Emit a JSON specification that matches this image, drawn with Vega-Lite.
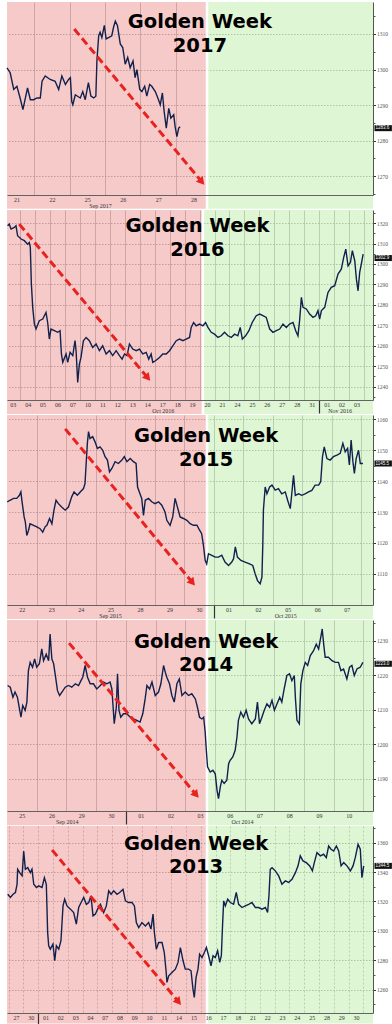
{
  "$schema": "https://vega.github.io/schema/vega-lite/v6.json",
  "background": "white",
  "padding": {"left": 1, "top": 0, "right": 0, "bottom": 0},
  "spacing": 15,
  "bounds": "flush",
  "config": {"view": {"stroke": null}},
  "datasets": {
    "titles": [
      {"year": 2017, "title": ["Golden Week", "2017"]},
      {"year": 2016, "title": ["Golden Week", "2016"]},
      {"year": 2015, "title": ["Golden Week", "2015"]},
      {"year": 2014, "title": ["Golden Week", "2014"]},
      {"year": 2013, "title": ["Golden Week", "2013"]}
    ],
    "bg": [
      {"year": 2017, "phase": "pre", "t0": 0.23, "t1": 5.88},
      {"year": 2017, "phase": "post", "t0": 5.88, "t1": 10.57},
      {"year": 2016, "phase": "pre", "t0": 0.12, "t1": 13.22},
      {"year": 2016, "phase": "post", "t0": 13.22, "t1": 24.6},
      {"year": 2015, "phase": "pre", "t0": 0, "t1": 6.77},
      {"year": 2015, "phase": "post", "t0": 6.77, "t1": 12.39},
      {"year": 2014, "phase": "pre", "t0": 0, "t1": 6.73},
      {"year": 2014, "phase": "post", "t0": 6.73, "t1": 12.32},
      {"year": 2013, "phase": "pre", "t0": -0.11, "t1": 13.42},
      {"year": 2013, "phase": "post", "t0": 13.42, "t1": 24.65}
    ],
    "arrows": [
      {"year": 2017, "t1": 2.13, "v1": 1311.4, "t2": 5.71, "v2": 1268.7},
      {"year": 2016, "t1": 0.94, "v1": 1319.5, "t2": 9.48, "v2": 1244.8},
      {"year": 2015, "t1": 1.97, "v1": 1156.9, "t2": 6.25, "v2": 1107.5},
      {"year": 2014, "t1": 2.09, "v1": 1229.3, "t2": 6.34, "v2": 1185.6},
      {"year": 2013, "t1": 2.94, "v1": 1355.0, "t2": 11.44, "v2": 1252.4}
    ],
    "tags": [
      {"year": 2017, "v": 1283.5, "label": "1283.6"},
      {"year": 2016, "v": 1302.9, "label": "1302.9"},
      {"year": 2015, "v": 1145.7, "label": "1145.5"},
      {"year": 2014, "v": 1223.3, "label": "1223.0"},
      {"year": 2013, "v": 1344.2, "label": "1344.5"}
    ],
    "gw2017": [
      {"t":0.23,"v":1300.5},{"t":0.32,"v":1299.1},{"t":0.42,"v":1294.4},{"t":0.51,"v":1295.3},{"t":0.60,"v":1292.0},{"t":0.68,"v":1288.7},{"t":0.75,"v":1292.0},{"t":0.81,"v":1294.8},{"t":0.89,"v":1291.5},{"t":0.98,"v":1291.5},{"t":1.08,"v":1292.0},{"t":1.17,"v":1292.0},{"t":1.22,"v":1296.7},{"t":1.31,"v":1298.2},{"t":1.45,"v":1297.2},{"t":1.59,"v":1296.7},{"t":1.69,"v":1294.4},{"t":1.78,"v":1298.2},{"t":1.88,"v":1295.8},{"t":1.97,"v":1297.2},{"t":2.02,"v":1297.7},{"t":2.06,"v":1291.0},{"t":2.09,"v":1290.1},{"t":2.16,"v":1292.9},{"t":2.30,"v":1292.0},{"t":2.37,"v":1293.8},{"t":2.44,"v":1291.5},{"t":2.53,"v":1296.3},{"t":2.60,"v":1292.5},{"t":2.68,"v":1292.0},{"t":2.74,"v":1292.5},{"t":2.77,"v":1302.4},{"t":2.82,"v":1309.5},{"t":2.86,"v":1310.5},{"t":2.91,"v":1309.0},{"t":2.98,"v":1312.4},{"t":3.03,"v":1308.6},{"t":3.10,"v":1309.0},{"t":3.19,"v":1309.5},{"t":3.24,"v":1311.9},{"t":3.29,"v":1313.6},{"t":3.35,"v":1312.4},{"t":3.43,"v":1307.2},{"t":3.50,"v":1306.2},{"t":3.57,"v":1301.5},{"t":3.64,"v":1303.4},{"t":3.71,"v":1300.5},{"t":3.79,"v":1302.4},{"t":3.85,"v":1297.7},{"t":3.90,"v":1300.0},{"t":3.98,"v":1294.4},{"t":4.04,"v":1293.8},{"t":4.12,"v":1295.3},{"t":4.18,"v":1292.5},{"t":4.26,"v":1295.8},{"t":4.32,"v":1295.3},{"t":4.42,"v":1293.8},{"t":4.51,"v":1291.5},{"t":4.56,"v":1290.1},{"t":4.62,"v":1293.4},{"t":4.67,"v":1288.2},{"t":4.73,"v":1283.5},{"t":4.80,"v":1289.1},{"t":4.86,"v":1286.3},{"t":4.94,"v":1287.3},{"t":4.98,"v":1283.9},{"t":5.03,"v":1281.1},{"t":5.08,"v":1283.5},{"t":5.12,"v":1283.9}
    ],
    "gw2016": [
      {"t":0.16,"v":1318.7},{"t":0.27,"v":1319.5},{"t":0.39,"v":1317.1},{"t":0.61,"v":1317.9},{"t":0.72,"v":1318.7},{"t":0.83,"v":1313.8},{"t":1.06,"v":1312.2},{"t":1.28,"v":1311.4},{"t":1.50,"v":1309.7},{"t":1.61,"v":1310.5},{"t":1.68,"v":1308.1},{"t":1.75,"v":1290.2},{"t":1.84,"v":1278.8},{"t":1.95,"v":1270.7},{"t":2.06,"v":1268.2},{"t":2.28,"v":1272.3},{"t":2.51,"v":1273.1},{"t":2.73,"v":1276.3},{"t":2.84,"v":1271.4},{"t":2.95,"v":1263.3},{"t":3.06,"v":1268.2},{"t":3.29,"v":1267.4},{"t":3.51,"v":1266.6},{"t":3.67,"v":1267.4},{"t":3.76,"v":1256.0},{"t":3.85,"v":1251.9},{"t":4.07,"v":1256.0},{"t":4.18,"v":1251.9},{"t":4.34,"v":1256.8},{"t":4.52,"v":1255.2},{"t":4.67,"v":1262.5},{"t":4.74,"v":1257.6},{"t":4.85,"v":1242.1},{"t":4.96,"v":1251.1},{"t":5.07,"v":1254.3},{"t":5.23,"v":1262.5},{"t":5.41,"v":1264.1},{"t":5.63,"v":1262.5},{"t":5.85,"v":1259.2},{"t":6.08,"v":1260.9},{"t":6.30,"v":1257.6},{"t":6.52,"v":1260.0},{"t":6.75,"v":1256.0},{"t":6.97,"v":1257.6},{"t":7.19,"v":1255.2},{"t":7.42,"v":1257.6},{"t":7.64,"v":1255.2},{"t":7.82,"v":1253.5},{"t":7.98,"v":1256.0},{"t":8.15,"v":1255.2},{"t":8.31,"v":1260.9},{"t":8.53,"v":1258.4},{"t":8.76,"v":1257.6},{"t":8.98,"v":1258.4},{"t":9.20,"v":1256.0},{"t":9.43,"v":1256.8},{"t":9.60,"v":1253.5},{"t":9.76,"v":1256.0},{"t":9.87,"v":1251.9},{"t":10.05,"v":1252.7},{"t":10.32,"v":1254.3},{"t":10.54,"v":1256.0},{"t":10.77,"v":1256.0},{"t":10.99,"v":1257.6},{"t":11.21,"v":1260.0},{"t":11.44,"v":1262.5},{"t":11.66,"v":1263.3},{"t":11.88,"v":1262.5},{"t":12.10,"v":1263.3},{"t":12.33,"v":1264.1},{"t":12.44,"v":1269.0},{"t":12.60,"v":1271.4},{"t":12.77,"v":1269.8},{"t":13.00,"v":1270.6},{"t":13.22,"v":1269.8},{"t":13.40,"v":1271.4},{"t":13.56,"v":1269.0},{"t":13.78,"v":1266.6},{"t":14.00,"v":1265.7},{"t":14.23,"v":1264.1},{"t":14.45,"v":1264.9},{"t":14.67,"v":1266.6},{"t":14.90,"v":1264.9},{"t":15.12,"v":1264.1},{"t":15.34,"v":1265.7},{"t":15.56,"v":1264.9},{"t":15.72,"v":1269.0},{"t":15.86,"v":1263.3},{"t":16.08,"v":1264.9},{"t":16.30,"v":1267.4},{"t":16.52,"v":1271.4},{"t":16.79,"v":1274.7},{"t":17.02,"v":1275.5},{"t":17.24,"v":1274.7},{"t":17.46,"v":1273.9},{"t":17.69,"v":1268.2},{"t":17.91,"v":1266.6},{"t":18.13,"v":1267.4},{"t":18.36,"v":1268.2},{"t":18.58,"v":1270.6},{"t":18.80,"v":1269.0},{"t":19.02,"v":1270.6},{"t":19.25,"v":1271.4},{"t":19.43,"v":1267.4},{"t":19.58,"v":1264.9},{"t":19.69,"v":1272.3},{"t":19.81,"v":1283.7},{"t":19.92,"v":1278.8},{"t":20.14,"v":1278.0},{"t":20.36,"v":1275.5},{"t":20.59,"v":1273.9},{"t":20.77,"v":1274.7},{"t":20.92,"v":1277.2},{"t":21.03,"v":1273.1},{"t":21.15,"v":1277.2},{"t":21.37,"v":1278.8},{"t":21.59,"v":1286.1},{"t":21.81,"v":1288.6},{"t":22.04,"v":1289.4},{"t":22.26,"v":1295.1},{"t":22.48,"v":1297.5},{"t":22.64,"v":1303.2},{"t":22.78,"v":1307.3},{"t":22.93,"v":1299.1},{"t":23.09,"v":1300.8},{"t":23.22,"v":1306.5},{"t":23.38,"v":1301.6},{"t":23.49,"v":1292.6},{"t":23.60,"v":1286.9},{"t":23.71,"v":1295.9},{"t":23.82,"v":1300.0},{"t":23.94,"v":1304.8}
    ],
    "gw2015": [
      {"t":0.01,"v":1133.3},{"t":0.10,"v":1133.8},{"t":0.22,"v":1134.4},{"t":0.33,"v":1134.4},{"t":0.42,"v":1135.4},{"t":0.47,"v":1136.5},{"t":0.51,"v":1133.3},{"t":0.58,"v":1128.4},{"t":0.62,"v":1126.8},{"t":0.67,"v":1122.4},{"t":0.73,"v":1124.1},{"t":0.78,"v":1126.2},{"t":0.90,"v":1125.7},{"t":1.01,"v":1125.2},{"t":1.12,"v":1124.6},{"t":1.21,"v":1123.5},{"t":1.29,"v":1125.2},{"t":1.35,"v":1125.7},{"t":1.44,"v":1127.9},{"t":1.52,"v":1126.2},{"t":1.59,"v":1130.6},{"t":1.66,"v":1133.8},{"t":1.74,"v":1132.7},{"t":1.85,"v":1131.6},{"t":1.97,"v":1130.6},{"t":2.08,"v":1131.6},{"t":2.19,"v":1134.9},{"t":2.27,"v":1136.5},{"t":2.38,"v":1135.4},{"t":2.48,"v":1136.5},{"t":2.59,"v":1137.6},{"t":2.64,"v":1139.2},{"t":2.68,"v":1145.7},{"t":2.72,"v":1152.2},{"t":2.76,"v":1156.0},{"t":2.81,"v":1153.8},{"t":2.90,"v":1154.4},{"t":2.98,"v":1152.7},{"t":3.06,"v":1150.6},{"t":3.15,"v":1151.1},{"t":3.24,"v":1150.0},{"t":3.32,"v":1147.9},{"t":3.40,"v":1146.8},{"t":3.47,"v":1143.0},{"t":3.55,"v":1144.1},{"t":3.66,"v":1146.3},{"t":3.77,"v":1145.7},{"t":3.89,"v":1146.8},{"t":3.97,"v":1147.9},{"t":4.06,"v":1146.3},{"t":4.17,"v":1147.3},{"t":4.28,"v":1146.3},{"t":4.37,"v":1145.7},{"t":4.42,"v":1138.1},{"t":4.48,"v":1136.5},{"t":4.56,"v":1134.4},{"t":4.62,"v":1128.9},{"t":4.68,"v":1133.8},{"t":4.79,"v":1134.4},{"t":4.90,"v":1133.3},{"t":5.01,"v":1132.7},{"t":5.13,"v":1133.3},{"t":5.24,"v":1132.2},{"t":5.35,"v":1130.0},{"t":5.41,"v":1127.3},{"t":5.52,"v":1125.7},{"t":5.61,"v":1128.4},{"t":5.69,"v":1134.4},{"t":5.77,"v":1131.6},{"t":5.86,"v":1128.4},{"t":5.97,"v":1127.9},{"t":6.09,"v":1127.3},{"t":6.20,"v":1126.2},{"t":6.31,"v":1125.7},{"t":6.43,"v":1125.7},{"t":6.52,"v":1124.1},{"t":6.59,"v":1123.0},{"t":6.65,"v":1119.2},{"t":6.71,"v":1114.3},{"t":6.76,"v":1113.2},{"t":6.82,"v":1116.5},{"t":6.93,"v":1116.0},{"t":7.05,"v":1115.4},{"t":7.16,"v":1115.4},{"t":7.27,"v":1116.0},{"t":7.38,"v":1113.8},{"t":7.50,"v":1112.7},{"t":7.61,"v":1113.8},{"t":7.67,"v":1114.9},{"t":7.73,"v":1118.7},{"t":7.80,"v":1115.4},{"t":7.92,"v":1114.3},{"t":8.06,"v":1113.8},{"t":8.21,"v":1113.2},{"t":8.32,"v":1112.7},{"t":8.40,"v":1110.0},{"t":8.48,"v":1107.8},{"t":8.57,"v":1106.8},{"t":8.63,"v":1108.9},{"t":8.66,"v":1119.7},{"t":8.68,"v":1130.6},{"t":8.74,"v":1138.1},{"t":8.80,"v":1135.9},{"t":8.89,"v":1138.1},{"t":8.97,"v":1138.7},{"t":9.08,"v":1137.1},{"t":9.19,"v":1137.6},{"t":9.30,"v":1135.9},{"t":9.42,"v":1136.5},{"t":9.50,"v":1133.8},{"t":9.59,"v":1131.1},{"t":9.64,"v":1135.9},{"t":9.70,"v":1141.9},{"t":9.76,"v":1135.4},{"t":9.87,"v":1135.9},{"t":9.98,"v":1135.4},{"t":10.09,"v":1135.9},{"t":10.21,"v":1136.5},{"t":10.32,"v":1137.0},{"t":10.43,"v":1138.7},{"t":10.55,"v":1138.7},{"t":10.62,"v":1139.8},{"t":10.68,"v":1147.9},{"t":10.74,"v":1151.1},{"t":10.83,"v":1147.3},{"t":10.94,"v":1146.8},{"t":11.05,"v":1147.9},{"t":11.17,"v":1148.4},{"t":11.28,"v":1149.0},{"t":11.37,"v":1152.2},{"t":11.45,"v":1149.5},{"t":11.53,"v":1150.6},{"t":11.59,"v":1145.2},{"t":11.65,"v":1153.3},{"t":11.71,"v":1146.3},{"t":11.76,"v":1142.5},{"t":11.82,"v":1147.3},{"t":11.90,"v":1150.0},{"t":11.96,"v":1145.7},{"t":12.05,"v":1145.7}
    ],
    "gw2014": [
      {"t":0.02,"v":1217.0},{"t":0.11,"v":1216.5},{"t":0.20,"v":1213.6},{"t":0.27,"v":1215.1},{"t":0.35,"v":1213.6},{"t":0.42,"v":1210.2},{"t":0.47,"v":1207.8},{"t":0.53,"v":1211.2},{"t":0.61,"v":1209.8},{"t":0.67,"v":1212.2},{"t":0.72,"v":1221.3},{"t":0.78,"v":1223.7},{"t":0.86,"v":1222.3},{"t":0.93,"v":1224.7},{"t":1.00,"v":1222.3},{"t":1.09,"v":1223.3},{"t":1.17,"v":1227.6},{"t":1.23,"v":1224.2},{"t":1.32,"v":1226.1},{"t":1.40,"v":1224.2},{"t":1.45,"v":1231.9},{"t":1.51,"v":1224.7},{"t":1.57,"v":1223.3},{"t":1.62,"v":1220.4},{"t":1.70,"v":1215.5},{"t":1.77,"v":1214.1},{"t":1.85,"v":1215.1},{"t":1.96,"v":1216.5},{"t":2.07,"v":1217.0},{"t":2.18,"v":1216.5},{"t":2.30,"v":1217.5},{"t":2.41,"v":1217.0},{"t":2.49,"v":1218.4},{"t":2.55,"v":1219.4},{"t":2.63,"v":1222.8},{"t":2.71,"v":1219.4},{"t":2.80,"v":1217.5},{"t":2.91,"v":1217.5},{"t":3.02,"v":1216.0},{"t":3.14,"v":1217.0},{"t":3.25,"v":1218.0},{"t":3.36,"v":1217.5},{"t":3.47,"v":1218.0},{"t":3.53,"v":1216.0},{"t":3.61,"v":1205.9},{"t":3.68,"v":1210.7},{"t":3.72,"v":1220.4},{"t":3.77,"v":1209.8},{"t":3.83,"v":1207.8},{"t":3.92,"v":1208.8},{"t":4.03,"v":1208.8},{"t":4.15,"v":1207.8},{"t":4.26,"v":1207.3},{"t":4.37,"v":1206.9},{"t":4.48,"v":1206.4},{"t":4.57,"v":1208.8},{"t":4.65,"v":1213.1},{"t":4.71,"v":1217.0},{"t":4.80,"v":1216.0},{"t":4.88,"v":1218.0},{"t":4.99,"v":1214.1},{"t":5.10,"v":1215.1},{"t":5.18,"v":1217.5},{"t":5.27,"v":1222.8},{"t":5.33,"v":1220.8},{"t":5.38,"v":1219.4},{"t":5.47,"v":1217.5},{"t":5.55,"v":1214.1},{"t":5.63,"v":1212.2},{"t":5.72,"v":1217.5},{"t":5.80,"v":1218.9},{"t":5.89,"v":1214.1},{"t":6.00,"v":1215.1},{"t":6.11,"v":1214.1},{"t":6.22,"v":1214.6},{"t":6.34,"v":1213.1},{"t":6.41,"v":1210.7},{"t":6.48,"v":1207.8},{"t":6.56,"v":1207.3},{"t":6.62,"v":1207.8},{"t":6.67,"v":1203.5},{"t":6.71,"v":1198.2},{"t":6.75,"v":1193.4},{"t":6.84,"v":1191.9},{"t":6.93,"v":1192.4},{"t":7.01,"v":1191.4},{"t":7.07,"v":1186.6},{"t":7.12,"v":1184.2},{"t":7.18,"v":1187.6},{"t":7.23,"v":1189.5},{"t":7.31,"v":1188.6},{"t":7.40,"v":1189.5},{"t":7.46,"v":1194.3},{"t":7.51,"v":1195.3},{"t":7.60,"v":1196.3},{"t":7.68,"v":1198.2},{"t":7.74,"v":1202.0},{"t":7.79,"v":1206.9},{"t":7.87,"v":1209.3},{"t":7.96,"v":1207.8},{"t":8.05,"v":1209.8},{"t":8.13,"v":1207.3},{"t":8.24,"v":1205.9},{"t":8.36,"v":1207.3},{"t":8.43,"v":1212.2},{"t":8.50,"v":1205.9},{"t":8.58,"v":1207.8},{"t":8.66,"v":1209.8},{"t":8.75,"v":1211.7},{"t":8.84,"v":1210.7},{"t":8.92,"v":1212.7},{"t":9.00,"v":1209.8},{"t":9.09,"v":1211.7},{"t":9.18,"v":1213.6},{"t":9.25,"v":1212.2},{"t":9.33,"v":1216.0},{"t":9.42,"v":1219.9},{"t":9.51,"v":1220.4},{"t":9.59,"v":1218.4},{"t":9.67,"v":1219.9},{"t":9.71,"v":1213.1},{"t":9.76,"v":1206.9},{"t":9.84,"v":1205.9},{"t":9.89,"v":1217.5},{"t":9.96,"v":1221.3},{"t":10.04,"v":1223.7},{"t":10.12,"v":1222.8},{"t":10.21,"v":1225.7},{"t":10.32,"v":1227.1},{"t":10.41,"v":1229.0},{"t":10.49,"v":1227.6},{"t":10.57,"v":1231.4},{"t":10.61,"v":1233.4},{"t":10.66,"v":1229.0},{"t":10.71,"v":1225.2},{"t":10.82,"v":1225.2},{"t":10.94,"v":1224.2},{"t":11.05,"v":1223.7},{"t":11.16,"v":1223.7},{"t":11.24,"v":1221.3},{"t":11.33,"v":1221.8},{"t":11.44,"v":1218.9},{"t":11.53,"v":1222.3},{"t":11.61,"v":1222.8},{"t":11.69,"v":1219.9},{"t":11.78,"v":1221.8},{"t":11.89,"v":1222.3},{"t":11.98,"v":1223.7}
    ],
    "gw2013": [
      {"t":-0.06,"v":1324.9},{"t":0.12,"v":1322.7},{"t":0.30,"v":1324.9},{"t":0.46,"v":1326.1},{"t":0.57,"v":1331.7},{"t":0.61,"v":1341.9},{"t":0.75,"v":1339.6},{"t":0.91,"v":1337.4},{"t":1.02,"v":1354.3},{"t":1.13,"v":1341.9},{"t":1.29,"v":1343.0},{"t":1.47,"v":1339.6},{"t":1.58,"v":1341.9},{"t":1.70,"v":1331.7},{"t":1.88,"v":1329.5},{"t":2.03,"v":1330.6},{"t":2.26,"v":1329.5},{"t":2.42,"v":1336.2},{"t":2.55,"v":1331.7},{"t":2.64,"v":1298.9},{"t":2.71,"v":1289.9},{"t":2.82,"v":1287.6},{"t":3.00,"v":1291.0},{"t":3.12,"v":1279.7},{"t":3.23,"v":1289.9},{"t":3.39,"v":1287.6},{"t":3.54,"v":1293.3},{"t":3.68,"v":1317.0},{"t":3.79,"v":1321.5},{"t":3.95,"v":1317.0},{"t":4.18,"v":1314.8},{"t":4.40,"v":1312.5},{"t":4.58,"v":1304.6},{"t":4.74,"v":1315.9},{"t":4.90,"v":1319.3},{"t":5.08,"v":1322.7},{"t":5.26,"v":1318.1},{"t":5.42,"v":1319.3},{"t":5.57,"v":1323.8},{"t":5.71,"v":1310.2},{"t":5.87,"v":1311.4},{"t":6.02,"v":1314.8},{"t":6.21,"v":1318.1},{"t":6.43,"v":1312.5},{"t":6.61,"v":1317.0},{"t":6.77,"v":1327.2},{"t":6.93,"v":1324.9},{"t":7.11,"v":1327.2},{"t":7.33,"v":1324.9},{"t":7.51,"v":1326.1},{"t":7.74,"v":1328.3},{"t":7.90,"v":1320.4},{"t":8.12,"v":1319.3},{"t":8.35,"v":1319.3},{"t":8.51,"v":1317.0},{"t":8.64,"v":1305.7},{"t":8.80,"v":1302.3},{"t":9.02,"v":1305.7},{"t":9.25,"v":1303.4},{"t":9.47,"v":1305.7},{"t":9.63,"v":1301.2},{"t":9.77,"v":1311.4},{"t":9.86,"v":1298.9},{"t":9.99,"v":1287.6},{"t":10.15,"v":1292.1},{"t":10.38,"v":1292.1},{"t":10.53,"v":1285.3},{"t":10.65,"v":1272.9},{"t":10.71,"v":1265.0},{"t":10.83,"v":1269.5},{"t":11.05,"v":1271.8},{"t":11.28,"v":1274.0},{"t":11.46,"v":1278.6},{"t":11.62,"v":1288.7},{"t":11.80,"v":1279.7},{"t":11.95,"v":1274.0},{"t":12.18,"v":1274.0},{"t":12.34,"v":1272.9},{"t":12.47,"v":1260.5},{"t":12.56,"v":1254.8},{"t":12.68,"v":1268.4},{"t":12.81,"v":1274.0},{"t":12.92,"v":1284.2},{"t":13.08,"v":1281.9},{"t":13.24,"v":1285.3},{"t":13.38,"v":1288.7},{"t":13.53,"v":1283.1},{"t":13.69,"v":1276.3},{"t":13.83,"v":1283.1},{"t":13.98,"v":1281.9},{"t":14.14,"v":1286.5},{"t":14.28,"v":1278.6},{"t":14.39,"v":1283.1},{"t":14.48,"v":1305.7},{"t":14.55,"v":1320.4},{"t":14.66,"v":1317.0},{"t":14.82,"v":1321.5},{"t":15.00,"v":1319.3},{"t":15.22,"v":1318.1},{"t":15.40,"v":1326.1},{"t":15.56,"v":1318.1},{"t":15.79,"v":1315.9},{"t":16.01,"v":1317.0},{"t":16.24,"v":1318.1},{"t":16.46,"v":1319.3},{"t":16.69,"v":1315.9},{"t":16.91,"v":1315.9},{"t":17.14,"v":1314.8},{"t":17.37,"v":1315.9},{"t":17.52,"v":1312.5},{"t":17.61,"v":1323.8},{"t":17.70,"v":1341.9},{"t":17.82,"v":1343.0},{"t":18.04,"v":1340.8},{"t":18.27,"v":1337.4},{"t":18.49,"v":1331.7},{"t":18.72,"v":1334.0},{"t":18.94,"v":1332.9},{"t":19.17,"v":1335.1},{"t":19.40,"v":1339.6},{"t":19.58,"v":1344.2},{"t":19.73,"v":1351.0},{"t":19.91,"v":1347.6},{"t":20.14,"v":1346.4},{"t":20.37,"v":1344.2},{"t":20.55,"v":1340.8},{"t":20.68,"v":1346.4},{"t":20.86,"v":1353.2},{"t":21.09,"v":1351.0},{"t":21.31,"v":1352.1},{"t":21.49,"v":1349.8},{"t":21.65,"v":1357.7},{"t":21.81,"v":1355.5},{"t":21.99,"v":1354.3},{"t":22.17,"v":1357.7},{"t":22.33,"v":1354.3},{"t":22.49,"v":1344.2},{"t":22.67,"v":1346.4},{"t":22.89,"v":1344.2},{"t":23.12,"v":1340.8},{"t":23.30,"v":1344.2},{"t":23.45,"v":1349.8},{"t":23.64,"v":1358.9},{"t":23.79,"v":1355.5},{"t":23.90,"v":1336.2},{"t":24.02,"v":1344.2}
    ]
  },
  "vconcat": [
    {
      "width": 366, "height": 193,
      "resolve": {"axis": {"x": "independent", "y": "independent"}},
      "layer": [
        {
          "data": {"name": "bg"}, "transform": [{"filter": "datum.year == 2017"}],
          "mark": {"type": "rect", "opacity": 0.6},
          "encoding": {
            "x": {"field": "t0", "type": "quantitative", "scale": {"domain": [0.23, 10.57], "nice": false, "zero": false},
              "axis": {"orient": "bottom", "values": [1,2,3,4,5], "grid": true, "gridColor": "#888888", "gridWidth": 0.8, "labels": false, "ticks": false, "domain": false, "title": null, "zindex": 0}},
            "x2": {"field": "t1"},
            "y": {"datum": 1319.0, "type": "quantitative", "scale": {"domain": [1264.7, 1319.0], "nice": false, "zero": false},
              "axis": {"orient": "right", "values": [1270, 1280, 1290, 1300, 1310], "grid": true, "gridColor": "#666666", "gridDash": [1.5, 1.5], "gridWidth": 0.8, "labels": false, "ticks": false, "domain": false, "title": null, "zindex": 0}},
            "y2": {"datum": 1260.8},
            "color": {"field": "phase", "type": "nominal", "scale": {"domain": ["pre", "post"], "range": ["#f2a7a7", "#caf0b9"]}, "legend": null}
          }
        },
        {
          "data": {"name": "bg"}, "transform": [{"filter": "datum.year == 2017 && datum.phase == 'post'"}],
          "mark": {"type": "rule", "color": "#ffffff", "strokeWidth": 2.5},
          "encoding": {
            "x": {"field": "t0", "type": "quantitative",
              "axis": {"orient": "bottom", "values": [1,2,3,4,5,6], "labelExpr": "['','21','22','25','26','27','28'][datum.value]", "labelOffset": -17.7, "labelPadding": -11.5, "tickSize": 13, "tickColor": "transparent", "grid": false,
                "domain": true, "domainColor": "#555555", "domainWidth": 0.9,
                "labelFont": "Liberation Serif", "labelFontSize": 6, "labelColor": "#333333", "labelOverlap": false, "labelFlush": false, "labelBound": false, "title": null, "zindex": 1}},
            "y": {"datum": 1319.0, "type": "quantitative", "axis": null}, "y2": {"datum": 1260.8}}
        },
        {
          "data": {"name": "gw2017"},
          "mark": {"type": "line", "color": "#10214d", "strokeWidth": 1.4},
          "encoding": {
            "x": {"field": "t", "type": "quantitative", "scale": {"domain": [0.23, 10.57], "nice": false, "zero": false},
              "axis": {"orient": "bottom", "values": [2.86], "labelExpr": "'Sep 2017'", "ticks": false, "tickSize": 0, "domain": false, "grid": false, "labelPadding": 7, "labelFont": "Liberation Serif", "labelFontSize": 6, "labelColor": "#333333", "labelOverlap": false, "labelFlush": false, "labelBound": false, "title": null, "zindex": 1}},
            "y": {"field": "v", "type": "quantitative", "scale": {"domain": [1264.7, 1319.0], "nice": false, "zero": false},
              "axis": {"orient": "right", "values": [1270, 1280, 1290, 1300, 1310], "format": "d", "grid": false, "tickSize": 2.5, "tickColor": "#333333", "domain": true, "domainColor": "#555555", "labelFont": "Liberation Serif", "labelFontSize": 5.5, "labelColor": "#555555", "labelPadding": 1, "title": null, "zindex": 1}}
          }
        },
        {
          "data": {"name": "arrows"}, "transform": [{"filter": "datum.year == 2017"}],
          "mark": {"type": "rule", "color": "#e8231f", "strokeWidth": 3, "strokeDash": [8, 4]},
          "encoding": {"x": {"field": "t1", "type": "quantitative", "axis": null},
            "y": {"field": "v1", "type": "quantitative", "axis": {"orient": "right", "values": [1265, 1275, 1285, 1295, 1305, 1315], "labels": false, "grid": false, "domain": false, "tickSize": 2, "tickColor": "#555555", "title": null, "zindex": 1}},
            "x2": {"field": "t2"}, "y2": {"field": "v2"}}
        },
        {
          "data": {"name": "arrows"}, "transform": [{"filter": "datum.year == 2017"}],
          "mark": {"type": "point", "shape": "triangle", "angle": 140, "size": 80, "filled": true, "color": "#e8231f", "opacity": 1},
          "encoding": {"x": {"field": "t2", "type": "quantitative", "axis": null}, "y": {"field": "v2", "type": "quantitative", "axis": null}}
        },
        {
          "data": {"name": "titles"}, "transform": [{"filter": "datum.year == 2017"}],
          "mark": {"type": "text", "align": "center", "baseline": "alphabetic", "font": "DejaVu Sans", "fontSize": 19.5, "fontWeight": "bold", "lineHeight": 24, "color": "#000000"},
          "encoding": {"x": {"datum": 5.68, "type": "quantitative", "axis": null}, "y": {"datum": 1311.6, "type": "quantitative", "axis": null}, "text": {"field": "title"}}
        },
        {
          "data": {"name": "tags"}, "transform": [{"filter": "datum.year == 2017"}],
          "mark": {"type": "point", "shape": "M0.5,-1H6.3V1H0.5Z", "size": 36, "filled": true, "color": "#111111", "opacity": 1},
          "encoding": {"x": {"datum": 10.57, "type": "quantitative", "axis": null}, "y": {"field": "v", "type": "quantitative", "axis": null}}
        },
        {
          "data": {"name": "tags"}, "transform": [{"filter": "datum.year == 2017"}],
          "mark": {"type": "text", "align": "left", "baseline": "middle", "dx": 2.5, "font": "Liberation Sans", "fontSize": 4.5, "color": "#ffffff"},
          "encoding": {"x": {"datum": 10.57, "type": "quantitative", "axis": null}, "y": {"field": "v", "type": "quantitative", "axis": null}, "text": {"field": "label"}}
        }
      ]
    },
    {
      "width": 366, "height": 190,
      "resolve": {"axis": {"x": "independent", "y": "independent"}},
      "layer": [
        {
          "data": {"name": "bg"}, "transform": [{"filter": "datum.year == 2016"}],
          "mark": {"type": "rect", "opacity": 0.6},
          "encoding": {
            "x": {"field": "t0", "type": "quantitative", "scale": {"domain": [0.12, 24.6], "nice": false, "zero": false},
              "axis": {"orient": "bottom", "values": [1,2,3,4,5,6,7,8,9,10,11,12,13,14,15,16,17,18,19,20,21,22,23,24], "grid": true, "gridColor": "#888888", "gridWidth": 0.8, "labels": false, "ticks": false, "domain": false, "title": null, "zindex": 0}},
            "x2": {"field": "t1"},
            "y": {"datum": 1326.4, "type": "quantitative", "scale": {"domain": [1233.5, 1326.4], "nice": false, "zero": false},
              "axis": {"orient": "right", "values": [1240, 1250, 1260, 1270, 1280, 1290, 1300, 1310, 1320], "grid": true, "gridColor": "#666666", "gridDash": [1.5, 1.5], "gridWidth": 0.8, "labels": false, "ticks": false, "domain": false, "title": null, "zindex": 0}},
            "y2": {"datum": 1226.6},
            "color": {"field": "phase", "type": "nominal", "scale": {"domain": ["pre", "post"], "range": ["#f2a7a7", "#caf0b9"]}, "legend": null}
          }
        },
        {
          "data": {"name": "bg"}, "transform": [{"filter": "datum.year == 2016 && datum.phase == 'post'"}],
          "mark": {"type": "rule", "color": "#ffffff", "strokeWidth": 2.5},
          "encoding": {
            "x": {"field": "t0", "type": "quantitative",
              "axis": {"orient": "bottom", "values": [1,2,3,4,5,6,7,8,9,10,11,12,13,14,15,16,17,18,19,20,21,22,23,24], "labelExpr": "['','03','04','05','06','07','10','11','12','13','14','17','18','19','20','21','24','25','26','27','28','31','01','02','03'][datum.value]", "labelOffset": -7.48, "labelPadding": -11.5, "tickSize": 13, "tickWidth": 1.2,
                "tickColor": {"condition": {"test": "datum.value == 21", "value": "#333333"}, "value": "transparent"}, "grid": false,
                "domain": true, "domainColor": "#555555", "domainWidth": 0.9,
                "labelFont": "Liberation Serif", "labelFontSize": 6, "labelColor": "#333333", "labelOverlap": false, "labelFlush": false, "labelBound": false, "title": null, "zindex": 1}},
            "y": {"datum": 1326.4, "type": "quantitative", "axis": null}, "y2": {"datum": 1226.6}}
        },
        {
          "data": {"name": "gw2016"},
          "mark": {"type": "line", "color": "#10214d", "strokeWidth": 1.4},
          "encoding": {
            "x": {"field": "t", "type": "quantitative", "scale": {"domain": [0.12, 24.6], "nice": false, "zero": false},
              "axis": {"orient": "bottom", "values": [10.54, 22.37], "labelExpr": "datum.value < 15 ? 'Oct 2016' : 'Nov 2016'", "ticks": false, "tickSize": 0, "domain": false, "grid": false, "labelPadding": 7, "labelFont": "Liberation Serif", "labelFontSize": 6, "labelColor": "#333333", "labelOverlap": false, "labelFlush": false, "labelBound": false, "title": null, "zindex": 1}},
            "y": {"field": "v", "type": "quantitative", "scale": {"domain": [1233.5, 1326.4], "nice": false, "zero": false},
              "axis": {"orient": "right", "values": [1240, 1250, 1260, 1270, 1280, 1290, 1300, 1310, 1320], "format": "d", "grid": false, "tickSize": 2.5, "tickColor": "#333333", "domain": true, "domainColor": "#555555", "labelFont": "Liberation Serif", "labelFontSize": 5.5, "labelColor": "#555555", "labelPadding": 1, "title": null, "zindex": 1}}
          }
        },
        {
          "data": {"name": "arrows"}, "transform": [{"filter": "datum.year == 2016"}],
          "mark": {"type": "rule", "color": "#e8231f", "strokeWidth": 3, "strokeDash": [8, 4]},
          "encoding": {"x": {"field": "t1", "type": "quantitative", "axis": null},
            "y": {"field": "v1", "type": "quantitative", "axis": {"orient": "right", "values": [1235, 1245, 1255, 1265, 1275, 1285, 1295, 1305, 1315, 1325], "labels": false, "grid": false, "domain": false, "tickSize": 2, "tickColor": "#555555", "title": null, "zindex": 1}},
            "x2": {"field": "t2"}, "y2": {"field": "v2"}}
        },
        {
          "data": {"name": "arrows"}, "transform": [{"filter": "datum.year == 2016"}],
          "mark": {"type": "point", "shape": "triangle", "angle": 140, "size": 80, "filled": true, "color": "#e8231f", "opacity": 1},
          "encoding": {"x": {"field": "t2", "type": "quantitative", "axis": null}, "y": {"field": "v2", "type": "quantitative", "axis": null}}
        },
        {
          "data": {"name": "titles"}, "transform": [{"filter": "datum.year == 2016"}],
          "mark": {"type": "text", "align": "center", "baseline": "alphabetic", "font": "DejaVu Sans", "fontSize": 19.5, "fontWeight": "bold", "lineHeight": 23.3, "color": "#000000"},
          "encoding": {"x": {"datum": 12.86, "type": "quantitative", "axis": null}, "y": {"datum": 1315.5, "type": "quantitative", "axis": null}, "text": {"field": "title"}}
        },
        {
          "data": {"name": "tags"}, "transform": [{"filter": "datum.year == 2016"}],
          "mark": {"type": "point", "shape": "M0.5,-1H6.3V1H0.5Z", "size": 36, "filled": true, "color": "#111111", "opacity": 1},
          "encoding": {"x": {"datum": 24.6, "type": "quantitative", "axis": null}, "y": {"field": "v", "type": "quantitative", "axis": null}}
        },
        {
          "data": {"name": "tags"}, "transform": [{"filter": "datum.year == 2016"}],
          "mark": {"type": "text", "align": "left", "baseline": "middle", "dx": 2.5, "font": "Liberation Sans", "fontSize": 4.5, "color": "#ffffff"},
          "encoding": {"x": {"datum": 24.6, "type": "quantitative", "axis": null}, "y": {"field": "v", "type": "quantitative", "axis": null}, "text": {"field": "label"}}
        }
      ]
    },
    {
      "width": 366, "height": 190,
      "resolve": {"axis": {"x": "independent", "y": "independent"}},
      "layer": [
        {
          "data": {"name": "bg"}, "transform": [{"filter": "datum.year == 2015"}],
          "mark": {"type": "rect", "opacity": 0.6},
          "encoding": {
            "x": {"field": "t0", "type": "quantitative", "scale": {"domain": [0, 12.39], "nice": false, "zero": false},
              "axis": {"orient": "bottom", "values": [1,2,3,4,5,6,7,8,9,10,11,12], "grid": true, "gridColor": "#888888", "gridWidth": 0.8, "labels": false, "ticks": false, "domain": false, "title": null, "zindex": 0}},
            "x2": {"field": "t1"},
            "y": {"datum": 1161.4, "type": "quantitative", "scale": {"domain": [1099.9, 1161.4], "nice": false, "zero": false},
              "axis": {"orient": "right", "values": [1110, 1120, 1130, 1140, 1150, 1160], "grid": true, "gridColor": "#666666", "gridDash": [1.5, 1.5], "gridWidth": 0.8, "labels": false, "ticks": false, "domain": false, "title": null, "zindex": 0}},
            "y2": {"datum": 1095.4},
            "color": {"field": "phase", "type": "nominal", "scale": {"domain": ["pre", "post"], "range": ["#f2a7a7", "#caf0b9"]}, "legend": null}
          }
        },
        {
          "data": {"name": "bg"}, "transform": [{"filter": "datum.year == 2015 && datum.phase == 'post'"}],
          "mark": {"type": "rule", "color": "#ffffff", "strokeWidth": 2.5},
          "encoding": {
            "x": {"field": "t0", "type": "quantitative",
              "axis": {"orient": "bottom", "values": [1,2,3,4,5,6,7,8,9,10,11,12], "labelExpr": "['','22','23','24','25','28','29','30','01','02','05','06','07'][datum.value]", "labelOffset": -14.77, "labelPadding": -11.5, "tickSize": 13, "tickWidth": 1.2,
                "tickColor": {"condition": {"test": "datum.value == 7", "value": "#333333"}, "value": "transparent"}, "grid": false,
                "domain": true, "domainColor": "#555555", "domainWidth": 0.9,
                "labelFont": "Liberation Serif", "labelFontSize": 6, "labelColor": "#333333", "labelOverlap": false, "labelFlush": false, "labelBound": false, "title": null, "zindex": 1}},
            "y": {"datum": 1161.4, "type": "quantitative", "axis": null}, "y2": {"datum": 1095.4}}
        },
        {
          "data": {"name": "gw2015"},
          "mark": {"type": "line", "color": "#10214d", "strokeWidth": 1.4},
          "encoding": {
            "x": {"field": "t", "type": "quantitative", "scale": {"domain": [0, 12.39], "nice": false, "zero": false},
              "axis": {"orient": "bottom", "values": [3.49, 9.42], "labelExpr": "datum.value < 7 ? 'Sep 2015' : 'Oct 2015'", "ticks": false, "tickSize": 0, "domain": false, "grid": false, "labelPadding": 7, "labelFont": "Liberation Serif", "labelFontSize": 6, "labelColor": "#333333", "labelOverlap": false, "labelFlush": false, "labelBound": false, "title": null, "zindex": 1}},
            "y": {"field": "v", "type": "quantitative", "scale": {"domain": [1099.9, 1161.4], "nice": false, "zero": false},
              "axis": {"orient": "right", "values": [1110, 1120, 1130, 1140, 1150, 1160], "format": "d", "grid": false, "tickSize": 2.5, "tickColor": "#333333", "domain": true, "domainColor": "#555555", "labelFont": "Liberation Serif", "labelFontSize": 5.5, "labelColor": "#555555", "labelPadding": 1, "title": null, "zindex": 1}}
          }
        },
        {
          "data": {"name": "arrows"}, "transform": [{"filter": "datum.year == 2015"}],
          "mark": {"type": "rule", "color": "#e8231f", "strokeWidth": 3, "strokeDash": [8, 4]},
          "encoding": {"x": {"field": "t1", "type": "quantitative", "axis": null},
            "y": {"field": "v1", "type": "quantitative", "axis": {"orient": "right", "values": [1105, 1115, 1125, 1135, 1145, 1155], "labels": false, "grid": false, "domain": false, "tickSize": 2, "tickColor": "#555555", "title": null, "zindex": 1}},
            "x2": {"field": "t2"}, "y2": {"field": "v2"}}
        },
        {
          "data": {"name": "arrows"}, "transform": [{"filter": "datum.year == 2015"}],
          "mark": {"type": "point", "shape": "triangle", "angle": 140, "size": 80, "filled": true, "color": "#e8231f", "opacity": 1},
          "encoding": {"x": {"field": "t2", "type": "quantitative", "axis": null}, "y": {"field": "v2", "type": "quantitative", "axis": null}}
        },
        {
          "data": {"name": "titles"}, "transform": [{"filter": "datum.year == 2015"}],
          "mark": {"type": "text", "align": "center", "baseline": "alphabetic", "font": "DejaVu Sans", "fontSize": 19.5, "fontWeight": "bold", "lineHeight": 24, "color": "#000000"},
          "encoding": {"x": {"datum": 6.74, "type": "quantitative", "axis": null}, "y": {"datum": 1152.7, "type": "quantitative", "axis": null}, "text": {"field": "title"}}
        },
        {
          "data": {"name": "tags"}, "transform": [{"filter": "datum.year == 2015"}],
          "mark": {"type": "point", "shape": "M0.5,-1H6.3V1H0.5Z", "size": 36, "filled": true, "color": "#111111", "opacity": 1},
          "encoding": {"x": {"datum": 12.39, "type": "quantitative", "axis": null}, "y": {"field": "v", "type": "quantitative", "axis": null}}
        },
        {
          "data": {"name": "tags"}, "transform": [{"filter": "datum.year == 2015"}],
          "mark": {"type": "text", "align": "left", "baseline": "middle", "dx": 2.5, "font": "Liberation Sans", "fontSize": 4.5, "color": "#ffffff"},
          "encoding": {"x": {"datum": 12.39, "type": "quantitative", "axis": null}, "y": {"field": "v", "type": "quantitative", "axis": null}, "text": {"field": "label"}}
        }
      ]
    },
    {
      "width": 366, "height": 191,
      "resolve": {"axis": {"x": "independent", "y": "independent"}},
      "layer": [
        {
          "data": {"name": "bg"}, "transform": [{"filter": "datum.year == 2014"}],
          "mark": {"type": "rect", "opacity": 0.6},
          "encoding": {
            "x": {"field": "t0", "type": "quantitative", "scale": {"domain": [0, 12.32], "nice": false, "zero": false},
              "axis": {"orient": "bottom", "values": [1,2,3,4,5,6,7,8,9,10,11,12], "grid": true, "gridColor": "#888888", "gridWidth": 0.8, "labels": false, "ticks": false, "domain": false, "title": null, "zindex": 0}},
            "x2": {"field": "t1"},
            "y": {"datum": 1236.0, "type": "quantitative", "scale": {"domain": [1180.6, 1236.0], "nice": false, "zero": false},
              "axis": {"orient": "right", "values": [1190, 1200, 1210, 1220, 1230], "grid": true, "gridColor": "#666666", "gridDash": [1.5, 1.5], "gridWidth": 0.8, "labels": false, "ticks": false, "domain": false, "title": null, "zindex": 0}},
            "y2": {"datum": 1176.5},
            "color": {"field": "phase", "type": "nominal", "scale": {"domain": ["pre", "post"], "range": ["#f2a7a7", "#caf0b9"]}, "legend": null}
          }
        },
        {
          "data": {"name": "bg"}, "transform": [{"filter": "datum.year == 2014 && datum.phase == 'post'"}],
          "mark": {"type": "rule", "color": "#ffffff", "strokeWidth": 2.5},
          "encoding": {
            "x": {"field": "t0", "type": "quantitative",
              "axis": {"orient": "bottom", "values": [1,2,3,4,5,6,7,8,9,10,11,12], "labelExpr": "['','25','26','29','30','01','02','03','06','07','08','09','10'][datum.value]", "labelOffset": -14.85, "labelPadding": -11.5, "tickSize": 13, "tickWidth": 1.2,
                "tickColor": {"condition": {"test": "datum.value == 4", "value": "#333333"}, "value": "transparent"}, "grid": false,
                "domain": true, "domainColor": "#555555", "domainWidth": 0.9,
                "labelFont": "Liberation Serif", "labelFontSize": 6, "labelColor": "#333333", "labelOverlap": false, "labelFlush": false, "labelBound": false, "title": null, "zindex": 1}},
            "y": {"datum": 1236.0, "type": "quantitative", "axis": null}, "y2": {"datum": 1176.5}}
        },
        {
          "data": {"name": "gw2014"},
          "mark": {"type": "line", "color": "#10214d", "strokeWidth": 1.4},
          "encoding": {
            "x": {"field": "t", "type": "quantitative", "scale": {"domain": [0, 12.32], "nice": false, "zero": false},
              "axis": {"orient": "bottom", "values": [2.01, 7.91], "labelExpr": "datum.value < 4 ? 'Sep 2014' : 'Oct 2014'", "ticks": false, "tickSize": 0, "domain": false, "grid": false, "labelPadding": 7, "labelFont": "Liberation Serif", "labelFontSize": 6, "labelColor": "#333333", "labelOverlap": false, "labelFlush": false, "labelBound": false, "title": null, "zindex": 1}},
            "y": {"field": "v", "type": "quantitative", "scale": {"domain": [1180.6, 1236.0], "nice": false, "zero": false},
              "axis": {"orient": "right", "values": [1190, 1200, 1210, 1220, 1230], "format": "d", "grid": false, "tickSize": 2.5, "tickColor": "#333333", "domain": true, "domainColor": "#555555", "labelFont": "Liberation Serif", "labelFontSize": 5.5, "labelColor": "#555555", "labelPadding": 1, "title": null, "zindex": 1}}
          }
        },
        {
          "data": {"name": "arrows"}, "transform": [{"filter": "datum.year == 2014"}],
          "mark": {"type": "rule", "color": "#e8231f", "strokeWidth": 3, "strokeDash": [8, 4]},
          "encoding": {"x": {"field": "t1", "type": "quantitative", "axis": null},
            "y": {"field": "v1", "type": "quantitative", "axis": {"orient": "right", "values": [1185, 1195, 1205, 1215, 1225, 1235], "labels": false, "grid": false, "domain": false, "tickSize": 2, "tickColor": "#555555", "title": null, "zindex": 1}},
            "x2": {"field": "t2"}, "y2": {"field": "v2"}}
        },
        {
          "data": {"name": "arrows"}, "transform": [{"filter": "datum.year == 2014"}],
          "mark": {"type": "point", "shape": "triangle", "angle": 140, "size": 80, "filled": true, "color": "#e8231f", "opacity": 1},
          "encoding": {"x": {"field": "t2", "type": "quantitative", "axis": null}, "y": {"field": "v2", "type": "quantitative", "axis": null}}
        },
        {
          "data": {"name": "titles"}, "transform": [{"filter": "datum.year == 2014"}],
          "mark": {"type": "text", "align": "center", "baseline": "alphabetic", "font": "DejaVu Sans", "fontSize": 19.5, "fontWeight": "bold", "lineHeight": 22.6, "color": "#000000"},
          "encoding": {"x": {"datum": 6.70, "type": "quantitative", "axis": null}, "y": {"datum": 1227.9, "type": "quantitative", "axis": null}, "text": {"field": "title"}}
        },
        {
          "data": {"name": "tags"}, "transform": [{"filter": "datum.year == 2014"}],
          "mark": {"type": "point", "shape": "M0.5,-1H6.3V1H0.5Z", "size": 36, "filled": true, "color": "#111111", "opacity": 1},
          "encoding": {"x": {"datum": 12.32, "type": "quantitative", "axis": null}, "y": {"field": "v", "type": "quantitative", "axis": null}}
        },
        {
          "data": {"name": "tags"}, "transform": [{"filter": "datum.year == 2014"}],
          "mark": {"type": "text", "align": "left", "baseline": "middle", "dx": 2.5, "font": "Liberation Sans", "fontSize": 4.5, "color": "#ffffff"},
          "encoding": {"x": {"datum": 12.32, "type": "quantitative", "axis": null}, "y": {"field": "v", "type": "quantitative", "axis": null}, "text": {"field": "label"}}
        }
      ]
    },
    {
      "width": 366, "height": 187,
      "resolve": {"axis": {"x": "independent", "y": "independent"}},
      "layer": [
        {
          "data": {"name": "bg"}, "transform": [{"filter": "datum.year == 2013"}],
          "mark": {"type": "rect", "opacity": 0.6},
          "encoding": {
            "x": {"field": "t0", "type": "quantitative", "scale": {"domain": [-0.11, 24.65], "nice": false, "zero": false},
              "axis": {"orient": "bottom", "values": [0,1,2,3,4,5,6,7,8,9,10,11,12,13,14,15,16,17,18,19,20,21,22,23,24], "grid": true, "gridColor": "#888888", "gridWidth": 0.8, "gridDash": [2, 2], "labels": false, "ticks": false, "domain": false, "title": null, "zindex": 0}},
            "x2": {"field": "t1"},
            "y": {"datum": 1371.3, "type": "quantitative", "scale": {"domain": [1244.2, 1371.3], "nice": false, "zero": false},
              "axis": {"orient": "right", "values": [1260, 1280, 1300, 1320, 1340, 1360], "grid": true, "gridColor": "#666666", "gridDash": [1.5, 1.5], "gridWidth": 0.8, "labels": false, "ticks": false, "domain": false, "title": null, "zindex": 0}},
            "y2": {"datum": 1237.0},
            "color": {"field": "phase", "type": "nominal", "scale": {"domain": ["pre", "post"], "range": ["#f2a7a7", "#caf0b9"]}, "legend": null}
          }
        },
        {
          "data": {"name": "bg"}, "transform": [{"filter": "datum.year == 2013 && datum.phase == 'post'"}],
          "mark": {"type": "rule", "color": "#ffffff", "strokeWidth": 2.5},
          "encoding": {
            "x": {"field": "t0", "type": "quantitative",
              "axis": {"orient": "bottom", "values": [0,1,2,3,4,5,6,7,8,9,10,11,12,13,14,15,16,17,18,19,20,21,22,23,24], "labelExpr": "['','27','30','01','02','03','04','07','08','09','10','11','14','15','16','17','18','21','22','23','24','25','28','29','30'][datum.value]", "labelOffset": -7.39, "labelPadding": -9.5, "tickSize": 11, "tickWidth": 1.2,
                "tickColor": {"condition": {"test": "datum.value == 2", "value": "#333333"}, "value": "transparent"}, "grid": false,
                "domain": true, "domainColor": "#555555", "domainWidth": 0.9,
                "labelFont": "Liberation Serif", "labelFontSize": 6, "labelColor": "#333333", "labelOverlap": false, "labelFlush": false, "labelBound": false, "title": null, "zindex": 1}},
            "y": {"datum": 1371.3, "type": "quantitative", "axis": null}, "y2": {"datum": 1237.0}}
        },
        {
          "data": {"name": "gw2013"},
          "mark": {"type": "line", "color": "#10214d", "strokeWidth": 1.4},
          "encoding": {
            "x": {"field": "t", "type": "quantitative", "scale": {"domain": [-0.11, 24.65], "nice": false, "zero": false}, "axis": null},
            "y": {"field": "v", "type": "quantitative", "scale": {"domain": [1244.2, 1371.3], "nice": false, "zero": false},
              "axis": {"orient": "right", "values": [1260, 1280, 1300, 1320, 1340, 1360], "format": "d", "grid": false, "tickSize": 2.5, "tickColor": "#333333", "domain": true, "domainColor": "#555555", "labelFont": "Liberation Serif", "labelFontSize": 5.5, "labelColor": "#555555", "labelPadding": 1, "title": null, "zindex": 1}}
          }
        },
        {
          "data": {"name": "arrows"}, "transform": [{"filter": "datum.year == 2013"}],
          "mark": {"type": "rule", "color": "#e8231f", "strokeWidth": 3, "strokeDash": [8, 4]},
          "encoding": {"x": {"field": "t1", "type": "quantitative", "axis": null},
            "y": {"field": "v1", "type": "quantitative", "axis": {"orient": "right", "values": [1250, 1270, 1290, 1310, 1330, 1350, 1370], "labels": false, "grid": false, "domain": false, "tickSize": 2, "tickColor": "#555555", "title": null, "zindex": 1}},
            "x2": {"field": "t2"}, "y2": {"field": "v2"}}
        },
        {
          "data": {"name": "arrows"}, "transform": [{"filter": "datum.year == 2013"}],
          "mark": {"type": "point", "shape": "triangle", "angle": 140, "size": 80, "filled": true, "color": "#e8231f", "opacity": 1},
          "encoding": {"x": {"field": "t2", "type": "quantitative", "axis": null}, "y": {"field": "v2", "type": "quantitative", "axis": null}}
        },
        {
          "data": {"name": "titles"}, "transform": [{"filter": "datum.year == 2013"}],
          "mark": {"type": "text", "align": "center", "baseline": "alphabetic", "font": "DejaVu Sans", "fontSize": 19.5, "fontWeight": "bold", "lineHeight": 23.4, "color": "#000000"},
          "encoding": {"x": {"datum": 12.68, "type": "quantitative", "axis": null}, "y": {"datum": 1355.0, "type": "quantitative", "axis": null}, "text": {"field": "title"}}
        },
        {
          "data": {"name": "tags"}, "transform": [{"filter": "datum.year == 2013"}],
          "mark": {"type": "point", "shape": "M0.5,-1H6.3V1H0.5Z", "size": 36, "filled": true, "color": "#111111", "opacity": 1},
          "encoding": {"x": {"datum": 24.65, "type": "quantitative", "axis": null}, "y": {"field": "v", "type": "quantitative", "axis": null}}
        },
        {
          "data": {"name": "tags"}, "transform": [{"filter": "datum.year == 2013"}],
          "mark": {"type": "text", "align": "left", "baseline": "middle", "dx": 2.5, "font": "Liberation Sans", "fontSize": 4.5, "color": "#ffffff"},
          "encoding": {"x": {"datum": 24.65, "type": "quantitative", "axis": null}, "y": {"field": "v", "type": "quantitative", "axis": null}, "text": {"field": "label"}}
        }
      ]
    }
  ]
}
